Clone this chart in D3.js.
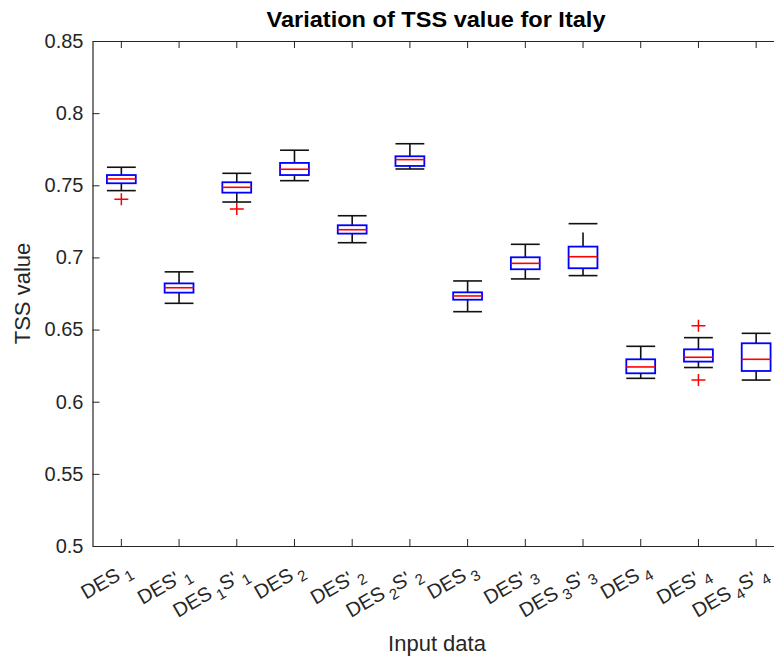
<!DOCTYPE html>
<html>
<head>
<meta charset="utf-8">
<script src="https://cdn.jsdelivr.net/npm/d3@7"></script>
<style>
  html, body { margin: 0; background: #fff; overflow: hidden; }
  svg { display: block; font-family: "Liberation Sans", Arial, sans-serif; }
</style>
</head>
<body>
<div id="chart"></div>
<script>
// Data (box plot statistics per input set)
const categories = ["DES_1", "DES'_1", "DES_1S'_1", "DES_2", "DES'_2", "DES_2S'_2",
                    "DES_3", "DES'_3", "DES_3S'_3", "DES_4", "DES'_4", "DES_4S'_4"];
const lowerWhisker = [0.7463, 0.6682, 0.7384, 0.7532, 0.7102, 0.7613, 0.6624, 0.6851, 0.6874, 0.6162, 0.6237, 0.6150];
const q1           = [0.7514, 0.6756, 0.7449, 0.7571, 0.7165, 0.7634, 0.6707, 0.6918, 0.6925, 0.6197, 0.6278, 0.6213];
const medians      = [0.7544, 0.6790, 0.7486, 0.7611, 0.7192, 0.7678, 0.6733, 0.6959, 0.7005, 0.6241, 0.6308, 0.6294];
const q3           = [0.7571, 0.6820, 0.7521, 0.7655, 0.7223, 0.7701, 0.6758, 0.7001, 0.7075, 0.6294, 0.6363, 0.6405];
const upperWhisker = [0.7625, 0.6900, 0.7583, 0.7743, 0.7289, 0.7788, 0.6837, 0.7091, 0.7234, 0.6384, 0.6444, 0.6474];
const outliers     = [[0.7403], [], [0.7336], [], [], [], [], [], [], [], [0.6527, 0.6150], []];
const yTicks = [0.5, 0.55, 0.6, 0.65, 0.7, 0.75, 0.8, 0.85];

(function() {
  const fullW = 774, fullH = 657;
  const margin = { top: 41, left: 92.5, bottom: 111, right: -11 };
  const W = fullW - margin.left - margin.right;
  const H = fullH - margin.top - margin.bottom;
  const ink = "#262626";

  const rows = categories.map((c, i) => ({
    cat: c, lw: lowerWhisker[i], q1: q1[i], med: medians[i], q3: q3[i], uw: upperWhisker[i], out: outliers[i]
  }));

  const svg = d3.select("#chart").append("svg")
    .attr("width", fullW).attr("height", fullH);

  const g = svg.append("g").attr("transform", `translate(${margin.left},${margin.top})`);

  const x = d3.scaleBand().domain(categories).range([0, W]);
  const y = d3.scaleLinear().domain([0.5, 0.85]).range([H, 0]);
  const bw = x.bandwidth() * 0.5;
  const cx = d => x(d.cat) + x.bandwidth() / 2;

  // Axes (MATLAB style: ticks inside); the right border falls outside the picture
  const yAxis = g.append("g").call(d3.axisLeft(y).tickValues(yTicks).tickSize(-7).tickSizeOuter(0).tickPadding(9).tickFormat(d3.format("")));
  const xAxis = g.append("g").attr("transform", `translate(0,${H})`)
    .call(d3.axisBottom(x).tickSize(-7).tickSizeOuter(0).tickFormat(""));
  const xAxisT = g.append("g")
    .call(d3.axisTop(x).tickSize(-7).tickSizeOuter(0).tickFormat(""));

  [yAxis, xAxis, xAxisT].forEach(a => {
    a.select(".domain").attr("stroke", ink).attr("stroke-width", 1.2);
    a.selectAll(".tick line").attr("stroke", ink).attr("stroke-width", 1);
  });
  yAxis.selectAll(".tick text").attr("fill", ink).attr("font-size", 20)
    .attr("font-family", "Liberation Sans, Arial, sans-serif");

  // Rotated category labels with subscripts
  const labels = g.append("g").attr("class", "xlabels");
  categories.forEach(c => {
    const drop = c.includes("'") ? 4 : 0;
    const t = labels.append("text")
      .attr("transform", `translate(${x(c) + x.bandwidth() / 2 + 11},${H + 27}) rotate(-30) translate(0,${drop})`)
      .attr("text-anchor", "end")
      .attr("fill", ink)
      .attr("font-size", 20);
    const parts = c.split(/(_\d)/).filter(s => s.length);
    let shifted = 0;
    parts.forEach(p => {
      if (p.startsWith("_")) {
        t.append("tspan").attr("dx", 4).attr("dy", 6 - shifted).attr("font-size", 15).text(p.slice(1));
        shifted = 6;
      } else {
        t.append("tspan").attr("dy", -shifted).text(p);
        shifted = 0;
      }
    });
  });

  // Whiskers (dashed black)
  const boxes = g.selectAll(".box").data(rows).enter().append("g").attr("class", "box");
  boxes.append("line")
    .attr("x1", cx).attr("x2", cx)
    .attr("y1", d => y(d.q3)).attr("y2", d => y(d.uw))
    .attr("stroke", "#111").attr("stroke-width", 1.6).attr("stroke-dasharray", "14,9");
  boxes.append("line")
    .attr("x1", cx).attr("x2", cx)
    .attr("y1", d => y(d.q1)).attr("y2", d => y(d.lw))
    .attr("stroke", "#111").attr("stroke-width", 1.6).attr("stroke-dasharray", "14,9");
  ["uw", "lw"].forEach(k => {
    boxes.append("line")
      .attr("x1", d => cx(d) - bw / 2).attr("x2", d => cx(d) + bw / 2)
      .attr("y1", d => y(d[k])).attr("y2", d => y(d[k]))
      .attr("stroke", "#111").attr("stroke-width", 1.6);
  });

  // Box
  boxes.append("rect")
    .attr("x", d => cx(d) - bw / 2).attr("width", bw)
    .attr("y", d => y(d.q3)).attr("height", d => y(d.q1) - y(d.q3))
    .attr("fill", "none").attr("stroke", "#0000ff").attr("stroke-width", 1.8);

  // Median
  boxes.append("line")
    .attr("x1", d => cx(d) - bw / 2).attr("x2", d => cx(d) + bw / 2)
    .attr("y1", d => y(d.med)).attr("y2", d => y(d.med))
    .attr("stroke", "#ff0000").attr("stroke-width", 1.6);

  // Outliers (+)
  const outs = rows.flatMap(d => d.out.map(v => ({ cat: d.cat, v })));
  g.selectAll(".out").data(outs).enter().append("path")
    .attr("class", "out")
    .attr("d", d => {
      const px = cx(d), py = y(d.v);
      return `M${px - 7},${py}H${px + 7}M${px},${py - 6}V${py + 6}`;
    })
    .attr("stroke", "#ff0000").attr("stroke-width", 1.5).attr("fill", "none");

  // Title and axis labels
  svg.append("text")
    .attr("x", 436).attr("y", 27)
    .attr("text-anchor", "middle")
    .attr("font-weight", "bold").attr("font-size", 22)
    .attr("fill", "#000")
    .attr("textLength", 339).attr("lengthAdjust", "spacingAndGlyphs")
    .text("Variation of TSS value for Italy");

  svg.append("text")
    .attr("x", 437).attr("y", 651)
    .attr("text-anchor", "middle")
    .attr("font-size", 22).attr("fill", ink)
    .text("Input data");

  svg.append("text")
    .attr("transform", `translate(30,${margin.top + H / 2}) rotate(-90)`)
    .attr("text-anchor", "middle")
    .attr("font-size", 22).attr("fill", ink)
    .text("TSS value");
})();
</script>
</body>
</html>
